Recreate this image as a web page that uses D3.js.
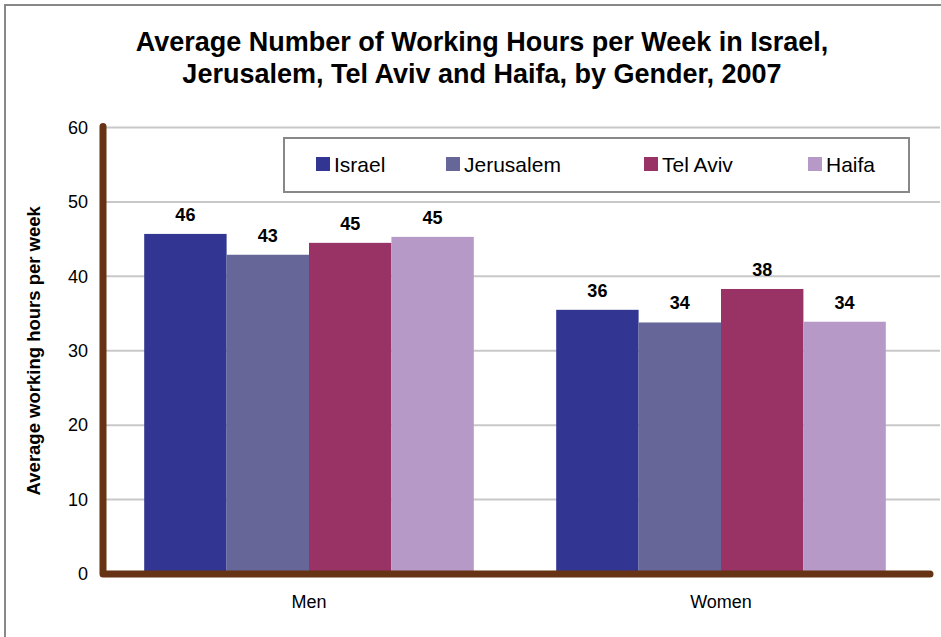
<!DOCTYPE html>
<html>
<head>
<meta charset="utf-8">
<script src="https://cdn.jsdelivr.net/npm/d3@7"></script>
<style>
  body { margin: 0; background: #fff; }
  svg { display: block; font-family: "Liberation Sans", Arial, sans-serif; }
</style>
</head>
<body>
<svg id="chart" width="941" height="637"></svg>
<script>
// data
var categories = ["Men", "Women"];
var seriesNames = ["Israel", "Jerusalem", "Tel Aviv", "Haifa"];
var israel = [45.7, 35.5];
var jerusalem = [42.9, 33.8];
var telAviv = [44.5, 38.3];
var haifa = [45.3, 33.9];
var yTicks = [0, 10, 20, 30, 40, 50, 60];
var colors = ["#333592", "#666699", "#993366", "#b799c7"];

var seriesValues = [israel, jerusalem, telAviv, haifa];

var svg = d3.select("#chart");

// outer frame (only top and left edges show in the picture)
svg.append("rect")
    .attr("x", 5).attr("y", 5)
    .attr("width", 1000).attr("height", 1000)
    .attr("fill", "#fff")
    .attr("stroke", "#888")
    .attr("stroke-width", 2);

var plotLeft = 103, plotRight = 927, plotTop = 127.5, plotBottom = 574;

var x = d3.scaleBand().domain(categories).range([plotLeft, plotRight])
    .paddingInner(0.2).paddingOuter(0.1);
var xs = d3.scaleBand().domain(seriesNames).range([0, x.bandwidth()]);
var y = d3.scaleLinear().domain([0, 60]).range([plotBottom, plotTop]);

// title
var title = svg.append("text")
    .attr("text-anchor", "middle")
    .attr("font-weight", "bold")
    .attr("font-size", 27)
    .attr("fill", "#000");
title.append("tspan").attr("x", 482).attr("y", 51)
    .text("Average Number of Working Hours per Week in Israel,");
title.append("tspan").attr("x", 482).attr("y", 83)
    .text("Jerusalem, Tel Aviv and Haifa, by Gender, 2007");

// gridlines
svg.append("g")
  .selectAll("line")
  .data(yTicks.filter(function(d) { return d > 0; }))
  .enter().append("line")
    .attr("x1", plotLeft).attr("x2", 940)
    .attr("y1", function(d) { return y(d); })
    .attr("y2", function(d) { return y(d); })
    .attr("stroke", "#c8c8c8")
    .attr("stroke-width", 2);

// bars
var groups = svg.append("g").selectAll("g")
    .data(categories)
  .enter().append("g")
    .attr("transform", function(d) { return "translate(" + x(d) + ",0)"; });

function rowsFor(c, i) {
  return seriesNames.map(function(s, j) {
    return {series: s, value: seriesValues[j][i], color: colors[j]};
  });
}

groups.selectAll("rect")
    .data(rowsFor)
  .enter().append("rect")
    .attr("x", function(d) { return xs(d.series); })
    .attr("y", function(d) { return y(d.value); })
    .attr("width", xs.bandwidth())
    .attr("height", function(d) { return plotBottom - y(d.value); })
    .attr("fill", function(d) { return d.color; });

groups.selectAll("text.val")
    .data(rowsFor)
  .enter().append("text")
    .attr("class", "val")
    .attr("x", function(d) { return xs(d.series) + xs.bandwidth() / 2; })
    .attr("y", function(d) { return y(d.value) - 13; })
    .attr("text-anchor", "middle")
    .attr("font-weight", "bold")
    .attr("font-size", 18)
    .text(function(d) { return Math.round(d.value); });

// y axis
var yAxis = svg.append("g")
    .attr("transform", "translate(" + plotLeft + ",0)")
    .call(d3.axisLeft(y).tickValues(yTicks).tickSize(0).tickPadding(15));
yAxis.select(".domain").remove();
yAxis.selectAll("text")
    .attr("font-family", "Liberation Sans, Arial, sans-serif")
    .attr("font-size", 18)
    .attr("fill", "#000");

// x axis
var xAxis = svg.append("g")
    .attr("transform", "translate(0," + plotBottom + ")")
    .call(d3.axisBottom(x).tickSize(0).tickPadding(21));
xAxis.select(".domain").remove();
xAxis.selectAll("text")
    .attr("font-family", "Liberation Sans, Arial, sans-serif")
    .attr("font-size", 18)
    .attr("fill", "#000");

// brown axis lines
svg.append("path")
    .attr("d", "M" + plotLeft + "," + (plotTop - 1) + "V" + plotBottom + "H" + 930)
    .attr("fill", "none")
    .attr("stroke", "#663314")
    .attr("stroke-width", 7)
    .attr("stroke-linecap", "round")
    .attr("stroke-linejoin", "round");

// y axis title
svg.append("text")
    .attr("transform", "translate(40," + ((plotTop + plotBottom) / 2) + ") rotate(-90)")
    .attr("text-anchor", "middle")
    .attr("font-weight", "bold")
    .attr("font-size", 18.5)
    .text("Average working hours per week");

// legend
var legend = svg.append("g");
legend.append("rect")
    .attr("x", 284).attr("y", 138)
    .attr("width", 625).attr("height", 54)
    .attr("fill", "#fff")
    .attr("stroke", "#888")
    .attr("stroke-width", 2);

var legendX = [316, 446, 644, 808];
var items = legend.selectAll("g.item")
    .data(seriesNames)
  .enter().append("g")
    .attr("class", "item")
    .attr("transform", function(d, i) { return "translate(" + legendX[i] + ",157)"; });
items.append("rect")
    .attr("width", 14).attr("height", 14)
    .attr("fill", function(d, i) { return colors[i]; });
items.append("text")
    .attr("x", 18).attr("y", 15)
    .attr("font-size", 21)
    .text(function(d) { return d; });
</script>
</body>
</html>
